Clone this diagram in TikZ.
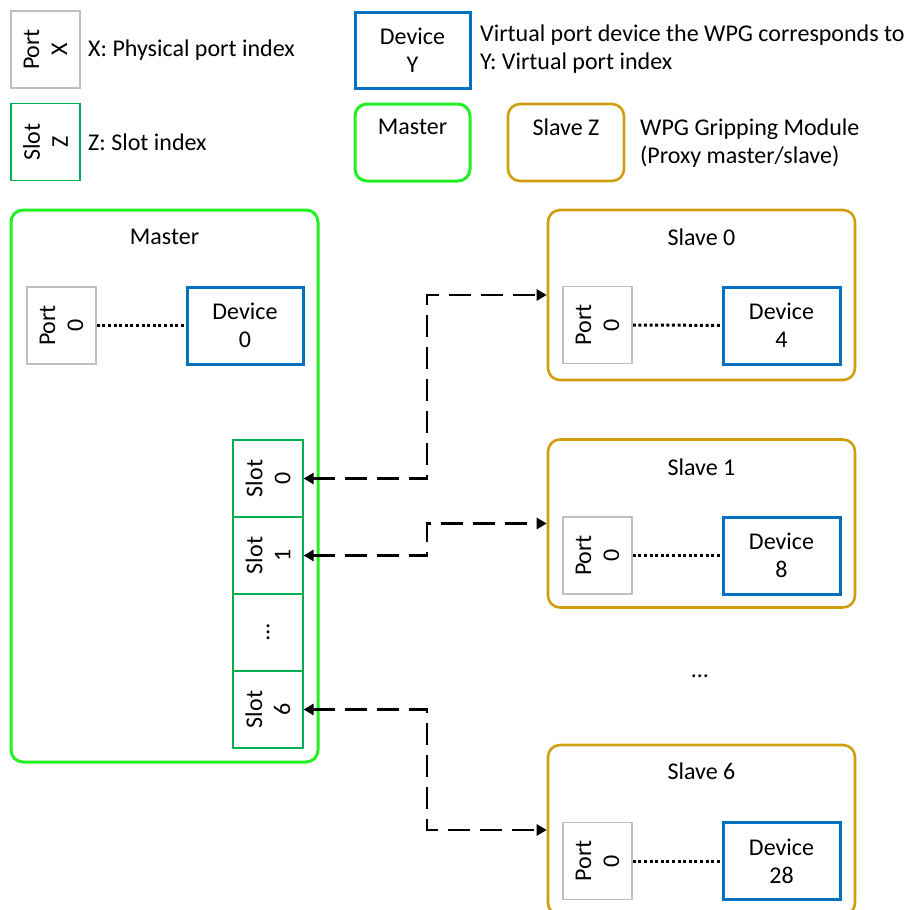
\documentclass[tikz,border=0pt]{standalone}
\usepackage{fontspec}
\setmainfont{Carlito}
\usetikzlibrary{arrows.meta}
\definecolor{portgray}{HTML}{BFBFBF}
\definecolor{slotgreen}{HTML}{00B050}
\definecolor{devblue}{HTML}{0070C0}
\definecolor{mastergreen}{HTML}{22F022}
\definecolor{slavegold}{HTML}{D09E0C}
\begin{document}
\begin{tikzpicture}[x=1pt,y=-1pt,
  every node/.style={font=\fontsize{24}{28}\selectfont, inner sep=0pt, align=center},
  portbox/.style={draw=portgray, line width=1.5pt, rotate=90, minimum width=77pt, minimum height=69pt},
  slotbox/.style={draw=slotgreen, line width=1.2pt, rotate=90, minimum width=77pt, minimum height=70pt},
  devbox/.style={draw=devblue, line width=3pt, minimum width=115pt, minimum height=76pt},
  masterbox/.style={draw=mastergreen, line width=3pt, rounded corners=12pt},
  slavebox/.style={draw=slavegold, line width=2.6pt, rounded corners=12pt, minimum width=307pt},
  dotline/.style={line width=3pt, dash pattern=on 3pt off 2.6pt},
  linkline/.style={line width=2.8pt, dash pattern=on 22pt off 10pt,
    {Triangle[length=10pt,width=11pt]}-{Triangle[length=10pt,width=11pt]}},
  legtext/.style={anchor=west, align=left}
]
\useasboundingbox (0,0) rectangle (914,910);

% ---------- legend ----------
\node[portbox] (portL) at (45.5,49.5) {Port\\X};
\node[legtext] (t1) at (88,50) {X: Physical port index};
\node[slotbox, minimum height=69pt] (slotL) at (45.5,142) {Slot\\Z};
\node[legtext] (t2) at (88,142) {Z: Slot index};
\node[devbox] (devL) at (412.5,50) {Device\\Y};
\node[legtext] (t3) at (480,49) {Virtual port device the WPG corresponds to\\Y: Virtual port index};
\node[masterbox, minimum width=115pt, minimum height=77pt] (masL) at (412.5,142.5) {};
\node (masLt) at (412.5,127) {Master};
\node[slavebox, minimum width=116pt, minimum height=77pt] (slvL) at (566,142.5) {};
\node (slvLt) at (566,127) {Slave Z};
\node[legtext] (t4) at (640,143) {WPG Gripping Module\\(Proxy master/slave)};

% ---------- master ----------
\node[masterbox, minimum width=307pt, minimum height=552pt] (master) at (164.5,486) {};
\node (mastert) at (164.5,237) {Master};
\node[portbox] (mp0) at (61.5,325.5) {Port\\0};
\node[devbox, minimum width=116pt, minimum height=77pt] (md0) at (245,325.5) {Device\\0};
\draw[dotline] (mp0) -- (md0);
\node[slotbox] (s0) at (268,478.5) {Slot\\0};
\node[slotbox] (s1) at (268,555.5) {Slot\\1};
\node[slotbox] (sd) at (268,632.5) {…};
\node[slotbox] (s6) at (268,709.5) {Slot\\6};

% ---------- slaves ----------
\node[slavebox, minimum height=170pt] (sl0) at (701.5,295) {};
\node (sl0t) at (701.5,237) {Slave 0};
\node[portbox] (p0) at (597.5,325) {Port\\0};
\node[devbox, minimum width=117pt, minimum height=77pt] (d4) at (781.5,325.5) {Device\\4};
\draw[dotline] (p0) -- (d4);

\node[slavebox, minimum height=168pt] (sl1) at (701.5,523.5) {};
\node (sl1t) at (701.5,467) {Slave 1};
\node[portbox] (p1) at (597.5,555.5) {Port\\0};
\node[devbox, minimum width=117pt, minimum height=77pt] (d8) at (781.5,555.5) {Device\\8};
\draw[dotline] (p1) -- (d8);

\node (dots) at (700,676) {…};

\node[slavebox, minimum height=170pt] (sl6) at (701.5,830) {};
\node (sl6t) at (701.5,771) {Slave 6};
\node[portbox] (p6) at (597.5,861) {Port\\0};
\node[devbox, minimum width=117pt, minimum height=77pt] (d28) at (781.5,861) {Device\\28};
\draw[dotline] (p6) -- (d28);

% ---------- links ----------
\coordinate (col) at (427,0);
\draw[linkline] (s0.south) -| (col |- sl0.west) -- (sl0.west);
\draw[linkline] (s1.south) -| (col |- sl1.west) -- (sl1.west);
\draw[linkline] (s6.south) -| (col |- sl6.west) -- (sl6.west);
\end{tikzpicture}
\end{document}
